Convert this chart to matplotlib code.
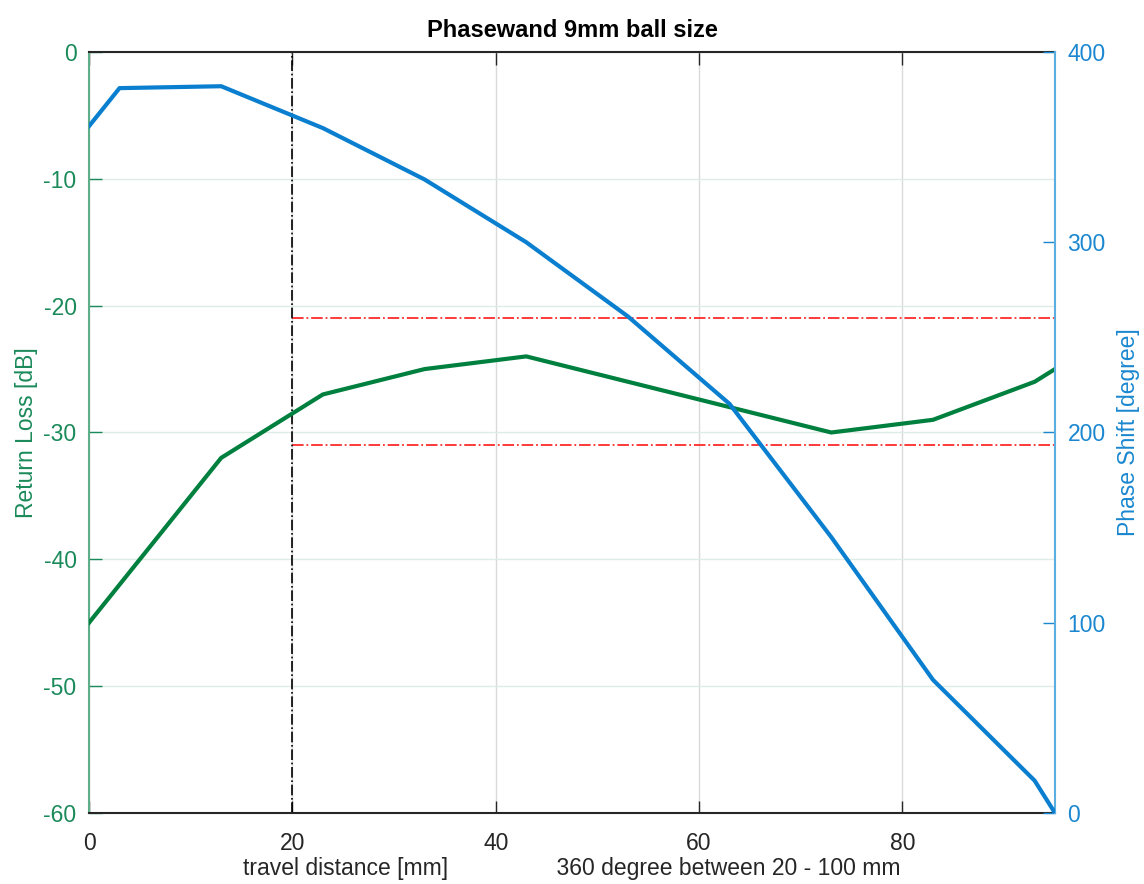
import matplotlib.pyplot as plt

plt.rcParams["font.family"] = ["Liberation Sans", "DejaVu Sans"]
plt.rcParams["axes.unicode_minus"] = False

# travel distance [mm]
dist_rl = [0, 13, 23, 33, 43, 53, 63, 73, 83, 93, 95]
return_loss = [-45, -32, -27, -25, -24, -26, -28, -30, -29, -26, -25]

dist_ph = [0, 3, 13, 23, 33, 43, 53, 63, 73, 83, 93, 95]
phase_shift = [361, 381, 382, 360, 333, 300, 261, 215, 145, 70, 17, 0]

limit_x = [20, 95]
limit_upper = -21
limit_lower = -31
marker_x = 20

green = "#00803e"
green_ax = "#1b8a5a"
blue = "#0a7fd0"
blue_ax = "#1a87d0"
dark = "#262626"
fs = 16.5

fig = plt.figure(figsize=(11.44, 8.84), dpi=100)
ax = fig.add_axes([0.0778, 0.0803, 0.8444, 0.8609])
ax2 = ax.twinx()

ax.plot(dist_rl, return_loss, color=green, lw=3.0, zorder=3)
ax.plot(limit_x, [limit_upper, limit_upper], color="#ff2a2a", lw=1.3, ls="-.", zorder=2)
ax.plot(limit_x, [limit_lower, limit_lower], color="#ff2a2a", lw=1.3, ls="-.", zorder=2)
ax.axvline(marker_x, color="black", lw=1.2, ls="-.", zorder=2)

ax2.plot(dist_ph, phase_shift, color=blue, lw=3.0, zorder=3)

ax.set_xlim(0, 95)
ax.set_ylim(-60, 0)
ax2.set_ylim(0, 400)
ax.set_xticks([0, 20, 40, 60, 80])
ax.set_yticks(range(-60, 1, 10))
ax2.set_yticks(range(0, 401, 100))

ax.grid(axis="x", color="#dadada", lw=1.0)
ax.grid(axis="y", color="#ddece5", lw=1.0)
ax.set_axisbelow(True)

ax.tick_params(axis="x", direction="in", length=9, width=1.0, colors=dark,
               labelsize=fs, pad=14, top=True)
ax.tick_params(axis="y", direction="in", length=9, width=1.0, colors=green_ax,
               labelsize=fs, pad=9)
ax2.tick_params(axis="y", direction="in", length=9, width=1.0, colors=blue_ax,
                labelsize=fs, pad=9)

for sp in ("top", "bottom"):
    ax.spines[sp].set_color(dark)
    ax.spines[sp].set_linewidth(1.5)
    ax2.spines[sp].set_visible(False)
ax.spines["left"].set_color("#5fae8a")
ax.spines["left"].set_linewidth(1.5)
ax.spines["right"].set_visible(False)
ax2.spines["left"].set_visible(False)
ax2.spines["right"].set_color("#5aaee0")
ax2.spines["right"].set_linewidth(1.5)

ax.set_ylabel("Return Loss [dB]", color=green_ax, fontsize=fs, labelpad=4)
ax2.set_ylabel("Phase Shift [degree]", color=blue_ax, fontsize=fs, labelpad=8)
ax.set_xlabel("travel distance [mm]" + " " * 17 + "360 degree between 20 - 100 mm",
              color=dark, fontsize=fs, labelpad=1)
ax.set_title("Phasewand 9mm ball size", fontsize=17, fontweight="bold", pad=11)

fig.savefig("out.png", dpi=100)
